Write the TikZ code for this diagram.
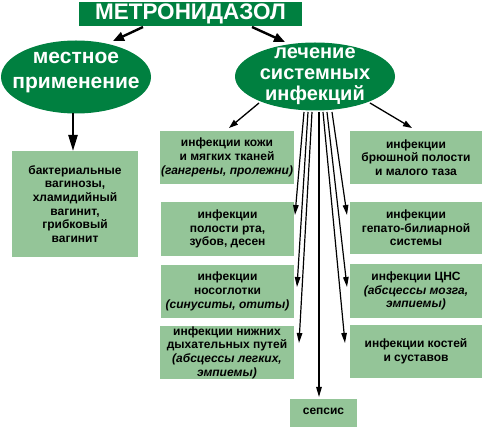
\documentclass[tikz,border=0pt]{standalone}
\usepackage{fontspec}
\setmainfont{Liberation Sans}
\usetikzlibrary{shapes.geometric,arrows.meta}
\definecolor{dkgreen}{RGB}{0,128,64}
\definecolor{lgreen}{RGB}{148,197,152}
\begin{document}
\begin{tikzpicture}[x=1pt,y=-1pt,
 box/.style={fill=lgreen, inner sep=0pt, align=center, font=\bfseries\fontsize{12}{13.7}\selectfont},
 oval/.style={ellipse, fill=dkgreen, inner sep=0pt},
 ovaltext/.style={text=white, align=center, inner sep=0pt},
 arr/.style={line width=1.2pt, -{Triangle[length=10pt,width=5.5pt]}},
 midarr/.style={line width=1.3pt, -{Triangle[length=9pt,width=6pt]}},
 bigarr/.style={line width=2.4pt, -{Triangle[length=11pt,width=9pt]}},
 downarr/.style={line width=2.3pt, -{Triangle[length=16pt,width=9pt]}},
]
\useasboundingbox (0,0) rectangle (483,427);

% title
\node[fill=dkgreen, minimum width=223pt, minimum height=24pt, inner sep=0pt, text=white,
      font=\bfseries\fontsize{22.5}{24}\selectfont] (title) at (190.5,14) {МЕТРОНИДАЗОЛ};

% ellipses
\node[oval, minimum width=150pt, minimum height=73pt] (loc) at (76,77) {};
\node[ovaltext, font=\bfseries\fontsize{21}{25}\selectfont] (loctext) at (76,72.5) {местное\\применение};
\node[oval, minimum width=160pt, minimum height=68pt] (sys) at (315,76.5) {};
\node[ovaltext, font=\bfseries\fontsize{20}{21}\selectfont] (systext) at (315,76.5) {лечение\\системных\\инфекций};

% boxes
\node[box, minimum width=126pt, minimum height=106pt] (vag) at (75,204)
  {бактериальные\\вагинозы,\\хламидийный\\вагинит,\\грибковый\\вагинит};
\node[box, minimum width=134pt, minimum height=53pt] (skin) at (227,157.5)
  {инфекции кожи\\и мягких тканей\\\textit{(гангрены, пролежни)}};
\node[box, minimum width=132pt, minimum height=53pt] (abd) at (416,157.5)
  {инфекции\\брюшной полости\\и малого таза};
\node[box, minimum width=133pt, minimum height=54pt] (oral) at (227.5,229)
  {инфекции\\полости рта,\\зубов, десен};
\node[box, minimum width=132pt, minimum height=52pt] (hep) at (416,228)
  {инфекции\\гепато-билиарной\\системы};
\node[box, minimum width=133pt, minimum height=53pt] (nasal) at (227.5,291.5)
  {инфекции\\носоглотки\\\textit{(синуситы, отиты)}};
\node[box, minimum width=132pt, minimum height=54pt] (cns) at (416,291)
  {инфекции ЦНС\\\textit{(абсцессы мозга,}\\\textit{эмпиемы)}};
\node[box, minimum width=134pt, minimum height=53pt] (lower) at (227,352.5)
  {инфекции нижних\\дыхательных путей\\\textit{(абсцессы легких,}\\\textit{эмпиемы)}};
\node[box, minimum width=132pt, minimum height=53pt] (bones) at (416,351.5)
  {инфекции костей\\и суставов};
\node[box, minimum width=67pt, minimum height=28pt] (sepsis) at (323.5,413)
  {\raisebox{3pt}{сепсис}};

% connector end points
\coordinate (tA) at (143,27);  \coordinate (tAe) at (113,41);
\coordinate (tB) at (252,27);  \coordinate (tBe) at (285,42);
\coordinate (lA) at (73,113);  \coordinate (lAe) at (73,151);
\coordinate (dA) at (259,103); \coordinate (dAe) at (229,128);
\coordinate (dB) at (370,103); \coordinate (dBe) at (412,128);
\coordinate (s1) at (304,112); \coordinate (e1) at (295,215);
\coordinate (s2) at (308,112); \coordinate (e2) at (297,287);
\coordinate (s3) at (312,112); \coordinate (e3) at (299,343);
\coordinate (s4) at (319,112); \coordinate (e4) at (319,397);
\coordinate (s5) at (323,112); \coordinate (e5) at (345,343);
\coordinate (s6) at (327,112); \coordinate (e6) at (347,287);
\coordinate (s7) at (332,112); \coordinate (e7) at (347,215);

\draw[bigarr] (tA) -- (tAe);
\draw[bigarr] (tB) -- (tBe);
\draw[downarr] (lA) -- (lAe);
\draw[midarr] (dA) -- (dAe);
\draw[midarr] (dB) -- (dBe);
\draw[arr] (s1) -- (e1);
\draw[arr] (s2) -- (e2);
\draw[arr] (s3) -- (e3);
\draw[arr] (s4) -- (e4);
\draw[arr] (s5) -- (e5);
\draw[arr] (s6) -- (e6);
\draw[arr] (s7) -- (e7);
\end{tikzpicture}
\end{document}
